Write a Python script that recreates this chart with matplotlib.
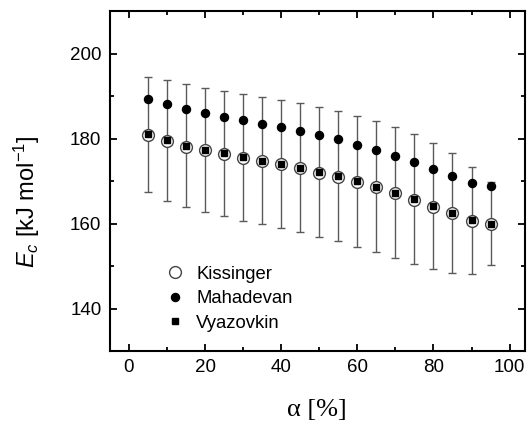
import matplotlib.pyplot as plt
from matplotlib.ticker import MultipleLocator

plt.rcParams["font.family"] = ["Liberation Sans", "DejaVu Sans"]
plt.rcParams["mathtext.fontset"] = "custom"
plt.rcParams["mathtext.rm"] = "Liberation Sans"
plt.rcParams["mathtext.it"] = "Liberation Sans:italic"

# conversion degree alpha [%]
alpha = [5, 10, 15, 20, 25, 30, 35, 40, 45, 50, 55, 60, 65, 70, 75, 80, 85, 90, 95]

kissinger = [180.8, 179.5, 178.1, 177.3, 176.4, 175.5, 174.7, 173.9, 173.0, 172.0,
             171.0, 169.8, 168.6, 167.2, 165.6, 164.0, 162.4, 160.7, 159.9]
mahadevan = [189.4, 188.2, 186.9, 186.0, 185.1, 184.3, 183.5, 182.7, 181.8, 180.8,
             179.9, 178.6, 177.4, 176.0, 174.5, 172.9, 171.3, 169.6, 168.9]
vyazovkin = [181.0, 179.6, 178.3, 177.4, 176.5, 175.6, 174.8, 174.0, 173.1, 172.1,
             171.2, 169.9, 168.7, 167.3, 165.8, 164.1, 162.5, 160.8, 160.0]
vyazovkin_err = [13.6, 14.2, 14.5, 14.6, 14.8, 14.9, 15.0, 15.1, 15.2, 15.3,
                 15.4, 15.5, 15.4, 15.4, 15.3, 14.9, 14.1, 12.6, 9.8]

fig = plt.figure(figsize=(5.28, 4.26), dpi=100)
ax = fig.add_axes([0.208, 0.176, 0.786, 0.798])

ax.errorbar(alpha, vyazovkin, yerr=vyazovkin_err, fmt="none", ecolor="#5a5a5a",
            elinewidth=1.0, capsize=2.8, capthick=1.0, zorder=1)
ax.plot(alpha, kissinger, "o", ms=8.5, mfc="white", mec="#444444", mew=1.0,
        label="Kissinger", zorder=2)
ax.plot(alpha, mahadevan, "o", ms=5.8, color="black", label="Mahadevan", zorder=3)
ax.plot(alpha, vyazovkin, "s", ms=5.0, color="black", label="Vyazovkin", zorder=3)

ax.set_xlim(-5, 104)
ax.set_ylim(130, 210)
ax.xaxis.set_major_locator(MultipleLocator(20))
ax.xaxis.set_minor_locator(MultipleLocator(10))
ax.yaxis.set_major_locator(MultipleLocator(20))
ax.yaxis.set_minor_locator(MultipleLocator(10))
ax.tick_params(which="both", direction="in", top=True, right=True, width=1.3,
               labelsize=13.5)
ax.tick_params(which="major", length=5, pad=6)
ax.tick_params(which="minor", length=3)
for sp in ax.spines.values():
    sp.set_linewidth(1.5)

ax.set_xlabel("α [%]", family="Liberation Serif", fontsize=19, labelpad=16)
ax.set_ylabel(r"$E_c$ [kJ mol$^{-1}$]", fontsize=17)
ax.yaxis.set_label_coords(-0.164, 0.44)

ax.legend(loc="lower left", bbox_to_anchor=(0.09, 0.008), frameon=False,
          fontsize=13.3, handletextpad=0.55, labelspacing=0.4, handlelength=1.2)

fig.savefig("out.png", dpi=100)
